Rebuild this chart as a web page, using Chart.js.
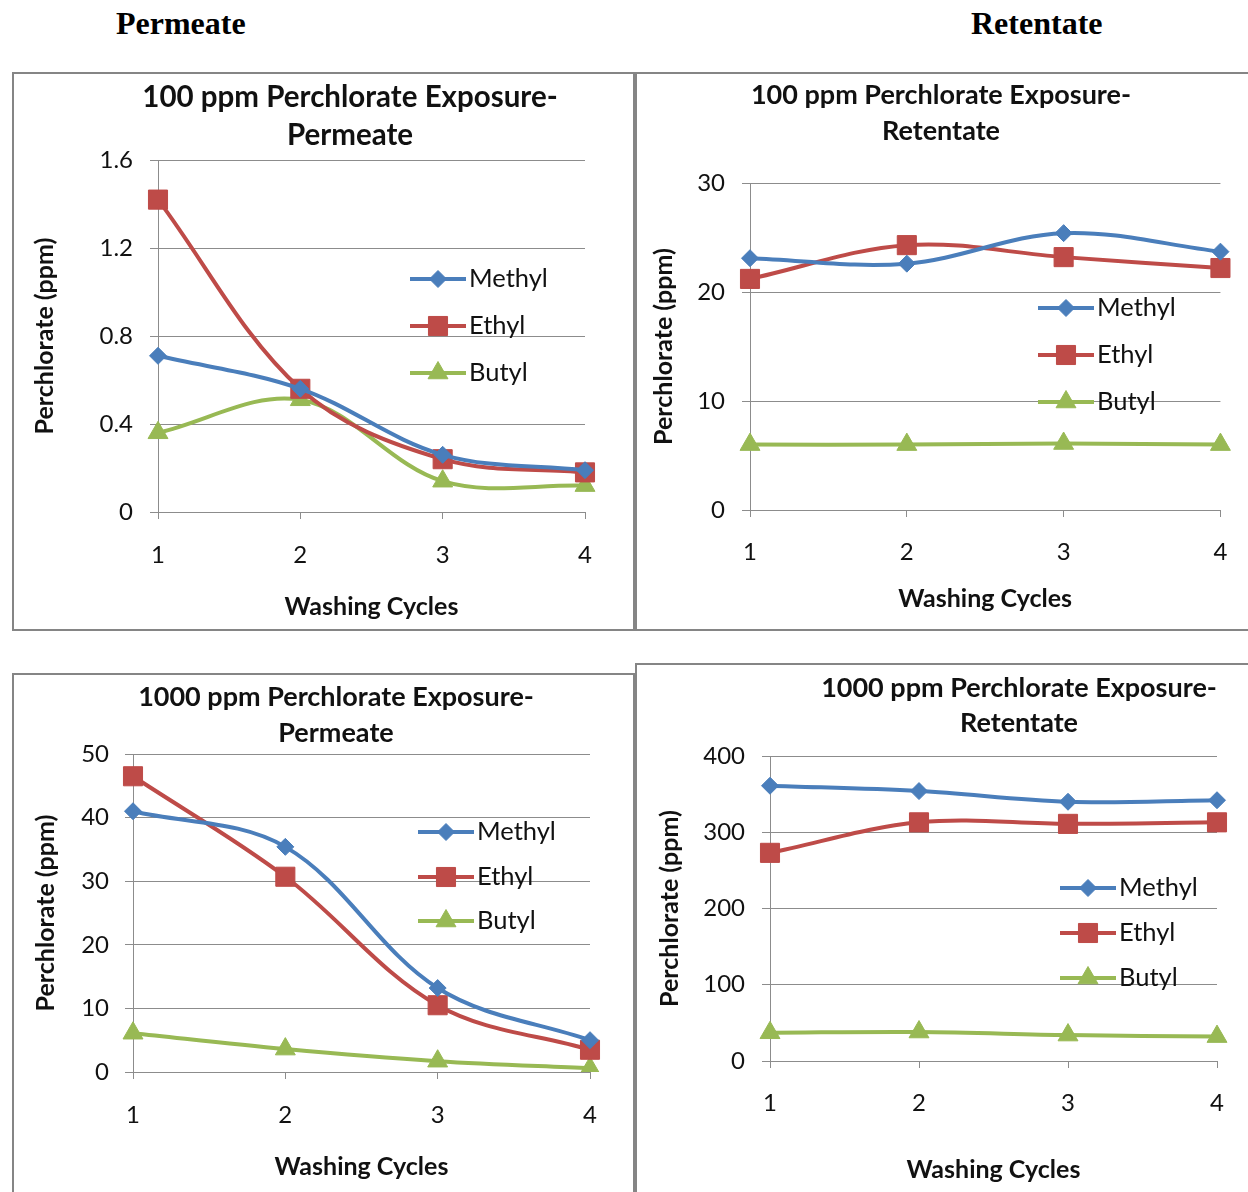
<!DOCTYPE html>
<html>
<head>
<meta charset="utf-8">
<title>Perchlorate in permeate and retentate over washing cycles</title>
<script src="https://cdn.jsdelivr.net/npm/chart.js@4/dist/chart.umd.min.js"></script>
<style>
  html, body { margin: 0; padding: 0; background: #fff; }
  body { position: relative; width: 1248px; height: 1192px; overflow: hidden; }
  .head { position: absolute; font: bold 32px "Liberation Serif", "Times New Roman", serif; line-height: 32px; color: #000; white-space: nowrap; }
  .panel { position: absolute; box-sizing: border-box; border: 2px solid #858585; background: #fff; }
  canvas { position: absolute; }
</style>
</head>
<body>
<div class="head" style="left:116px; top:7px;">Permeate</div>
<div class="head" style="left:971px; top:7px;">Retentate</div>

<div class="panel" style="left:12px; top:72px; width:623px; height:559px;"></div>
<div class="panel" style="left:635px; top:72px; width:630px; height:559px;"></div>
<div class="panel" style="left:12px; top:673px; width:623px; height:540px;"></div>
<div class="panel" style="left:635px; top:663px; width:630px; height:550px;"></div>

<canvas id="perm100" width="618" height="554" style="left:14px; top:74px;"></canvas>
<canvas id="ret100" width="611" height="554" style="left:637px; top:74px;"></canvas>
<canvas id="perm1000" width="618" height="517" style="left:14px; top:675px;"></canvas>
<canvas id="ret1000" width="611" height="527" style="left:637px; top:665px;"></canvas>

<script>
// Washing cycles on the x axis and the three ionic-liquid series
const cycles = ['1', '2', '3', '4'];
const seriesNames = ['Methyl', 'Ethyl', 'Butyl'];

// 100 ppm perchlorate exposure – permeate (ppm)
const perm100Methyl = [0.71, 0.56, 0.26, 0.19];
const perm100Ethyl  = [1.42, 0.56, 0.24, 0.18];
const perm100Butyl  = [0.36, 0.51, 0.14, 0.12];
const perm100Ticks  = [0, 0.4, 0.8, 1.2, 1.6];

// 100 ppm perchlorate exposure – retentate (ppm)
const ret100Methyl = [23.1, 22.6, 25.4, 23.7];
const ret100Ethyl  = [21.2, 24.3, 23.2, 22.2];
const ret100Butyl  = [6.0, 6.0, 6.1, 6.0];
const ret100Ticks  = [0, 10, 20, 30];

// 1000 ppm perchlorate exposure – permeate (ppm)
const perm1000Methyl = [41.0, 35.4, 13.2, 5.0];
const perm1000Ethyl  = [46.5, 30.7, 10.5, 3.5];
const perm1000Butyl  = [6.1, 3.6, 1.7, 0.6];
const perm1000Ticks  = [0, 10, 20, 30, 40, 50];

// 1000 ppm perchlorate exposure – retentate (ppm)
const ret1000Methyl = [361, 354, 340, 342];
const ret1000Ethyl  = [273, 313, 311, 313];
const ret1000Butyl  = [37, 38, 34, 32];
const ret1000Ticks  = [0, 100, 200, 300, 400];

// ---- styling ----
const FONT = 'Lato, "Open Sans", "Liberation Sans", sans-serif';
const TEXT = '#111';
const GRID = '#8c8c8c';
const seriesColors  = ['#4A7EBB', '#BE4B48', '#98B954'];
const seriesMarkers = ['rectRot', 'rect', 'triangle'];
const markerRadius  = [8.5, 13.5, 11.5];

// Page-space layout of each panel (canvas box, plot box, text anchors)
const layouts = {
  perm100:  { left: 14,  top: 74,  width: 618, height: 554,
              plotLeft: 158, plotRight: 585, plotTop: 160, plotBottom: 512,
              yTitleX: 45, xTitleY: 607, xLabelY: 555, yLabelGap: 25,
              titleX: 350, titleY: [97, 135], titleSize: 29.5,
              legendX: 410, legendY: [279, 326, 373] },
  ret100:   { left: 637, top: 74,  width: 611, height: 554,
              plotLeft: 750, plotRight: 1225, plotTop: 183, plotBottom: 510,
              yTitleX: 664, xTitleY: 599, xLabelY: 552, yLabelGap: 25,
              titleX: 941, titleY: [95, 131], titleSize: 27,
              legendX: 1038, legendY: [308, 355, 402] },
  perm1000: { left: 14,  top: 675, width: 618, height: 517,
              plotLeft: 133, plotRight: 590, plotTop: 754, plotBottom: 1072,
              yTitleX: 46, xTitleY: 1167, xLabelY: 1115, yLabelGap: 24,
              titleX: 336, titleY: [697, 733], titleSize: 27,
              legendX: 418, legendY: [832, 877, 921] },
  ret1000:  { left: 637, top: 665, width: 611, height: 527,
              plotLeft: 770, plotRight: 1217, plotTop: 756, plotBottom: 1061,
              yTitleX: 670, xTitleY: 1170, xLabelY: 1103, yLabelGap: 25,
              titleX: 1019, titleY: [688, 723], titleSize: 27,
              legendX: 1060, legendY: [888, 933, 978] }
};

const TICK_SIZE = 24, AXIS_TITLE_SIZE = 25, LEGEND_SIZE = 25.5;
const X_TICK_LEN = 7, Y_TICK_LEN = 8;

// Marker drawing shared by the legend (falls back if helpers are missing)
function drawMarker(ctx, style, radius, x, y, color) {
  ctx.save();
  ctx.fillStyle = color;
  ctx.strokeStyle = color;
  ctx.lineWidth = 1;
  if (Chart.helpers && Chart.helpers.drawPoint) {
    Chart.helpers.drawPoint(ctx, { pointStyle: style, radius: radius, borderWidth: 1, rotation: 0 }, x, y);
  } else {
    ctx.beginPath();
    if (style === 'rectRot') {
      ctx.moveTo(x - radius, y); ctx.lineTo(x, y - radius); ctx.lineTo(x + radius, y); ctx.lineTo(x, y + radius);
    } else if (style === 'rect') {
      const s = radius * Math.SQRT1_2; ctx.rect(x - s, y - s, 2 * s, 2 * s);
    } else {
      ctx.moveTo(x, y - radius); ctx.lineTo(x + radius * 0.866, y + radius / 2); ctx.lineTo(x - radius * 0.866, y + radius / 2);
    }
    ctx.closePath(); ctx.fill(); ctx.stroke();
  }
  ctx.restore();
}

// Two-line chart title centred on a chosen x
const panelTitlePlugin = {
  id: 'panelTitle',
  afterDraw(chart, args, opts) {
    const ctx = chart.ctx;
    ctx.save();
    ctx.font = 'bold ' + opts.size + 'px ' + FONT;
    ctx.fillStyle = TEXT;
    ctx.textAlign = 'center';
    ctx.textBaseline = 'middle';
    opts.lines.forEach((t, i) => ctx.fillText(t, opts.x, opts.y[i]));
    ctx.restore();
  }
};

// Legend entries drawn as line + marker + label inside the plot
const lineLegendPlugin = {
  id: 'lineLegend',
  afterDraw(chart, args, opts) {
    const ctx = chart.ctx;
    chart.data.datasets.forEach((ds, i) => {
      const y = opts.y[i];
      const x0 = opts.x, x1 = opts.x + opts.lineLen;
      ctx.save();
      ctx.strokeStyle = ds.borderColor;
      ctx.lineWidth = ds.borderWidth;
      ctx.beginPath(); ctx.moveTo(x0, y); ctx.lineTo(x1, y); ctx.stroke();
      ctx.restore();
      drawMarker(ctx, ds.pointStyle, ds.pointRadius, (x0 + x1) / 2, y, ds.borderColor);
      ctx.save();
      ctx.font = LEGEND_SIZE + 'px ' + FONT;
      ctx.fillStyle = TEXT;
      ctx.textAlign = 'left';
      ctx.textBaseline = 'middle';
      ctx.fillText(ds.label, x1 + 3, y);
      ctx.restore();
    });
  }
};

function buildChart(id, titleLines, series, ticks) {
  const g = layouts[id];
  const rel = v => v - g.left, relY = v => v - g.top;
  const plotW = { left: rel(g.plotLeft), right: rel(g.plotRight) };
  const plotH = { top: relY(g.plotTop), bottom: relY(g.plotBottom) };
  const axisTitleLH = AXIS_TITLE_SIZE * 1.2;
  const tickLH = TICK_SIZE * 1.2;

  const datasets = series.map((vals, i) => ({
    label: seriesNames[i],
    data: vals,
    borderColor: seriesColors[i],
    backgroundColor: seriesColors[i],
    borderWidth: 4,
    tension: 0.35,
    pointStyle: seriesMarkers[i],
    pointRadius: markerRadius[i],
    pointHoverRadius: markerRadius[i],
    pointBorderWidth: 1,
    pointBackgroundColor: seriesColors[i],
    pointBorderColor: seriesColors[i]
  }));

  return new Chart(document.getElementById(id), {
    type: 'line',
    data: { labels: cycles, datasets },
    options: {
      responsive: false,
      animation: false,
      devicePixelRatio: 1,
      events: [],
      layout: { padding: { left: 0, right: g.width - plotW.right, top: plotH.top, bottom: 0 } },
      plugins: {
        legend: { display: false },
        tooltip: { enabled: false },
        title: { display: false },
        panelTitle: { lines: titleLines, x: rel(g.titleX), y: g.titleY.map(relY), size: g.titleSize },
        lineLegend: { x: rel(g.legendX), y: g.legendY.map(relY), lineLen: 56 }
      },
      scales: {
        x: {
          type: 'category',
          offset: false,
          grid: { drawOnChartArea: false, drawTicks: true, tickLength: X_TICK_LEN, color: GRID, lineWidth: 1 },
          border: { color: GRID, width: 1 },
          ticks: {
            color: TEXT,
            font: { family: FONT, size: TICK_SIZE },
            padding: (g.xLabelY - g.plotBottom) - X_TICK_LEN - tickLH / 2,
            maxRotation: 0, autoSkip: false
          },
          title: {
            display: true, text: 'Washing Cycles', color: TEXT,
            font: { family: FONT, size: AXIS_TITLE_SIZE, weight: 'bold' },
            padding: { top: 0, bottom: (g.top + g.height - g.xTitleY) - axisTitleLH / 2 }
          },
          afterFit(scale) { scale.height = g.height - plotH.bottom; }
        },
        y: {
          min: ticks[0],
          max: ticks[ticks.length - 1],
          grid: { color: GRID, lineWidth: 1, drawTicks: true, tickLength: Y_TICK_LEN },
          border: { color: GRID, width: 1 },
          ticks: {
            stepSize: ticks[1] - ticks[0],
            color: TEXT,
            font: { family: FONT, size: TICK_SIZE },
            padding: g.yLabelGap - Y_TICK_LEN,
            callback: v => String(Number(v.toFixed(2)))
          },
          title: {
            display: true, text: 'Perchlorate (ppm)', color: TEXT,
            font: { family: FONT, size: AXIS_TITLE_SIZE, weight: 'bold' },
            padding: { top: rel(g.yTitleX) - axisTitleLH / 2, bottom: 0 }
          },
          afterFit(scale) { scale.width = plotW.left; }
        }
      }
    },
    plugins: [panelTitlePlugin, lineLegendPlugin]
  });
}

buildChart('perm100', ['100 ppm Perchlorate Exposure-', 'Permeate'],
  [perm100Methyl, perm100Ethyl, perm100Butyl], perm100Ticks);
buildChart('ret100', ['100 ppm Perchlorate Exposure-', 'Retentate'],
  [ret100Methyl, ret100Ethyl, ret100Butyl], ret100Ticks);
buildChart('perm1000', ['1000 ppm Perchlorate Exposure-', 'Permeate'],
  [perm1000Methyl, perm1000Ethyl, perm1000Butyl], perm1000Ticks);
buildChart('ret1000', ['1000 ppm Perchlorate Exposure-', 'Retentate'],
  [ret1000Methyl, ret1000Ethyl, ret1000Butyl], ret1000Ticks);
</script>
</body>
</html>
